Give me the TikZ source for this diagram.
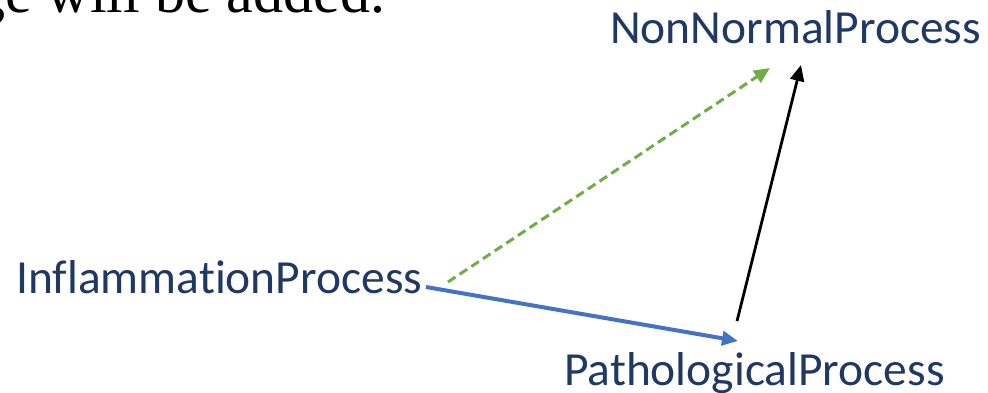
\documentclass[tikz,border=0pt]{standalone}
\usepackage{fontspec}
\setmainfont{Carlito}[RawFeature=-liga]
\newfontfamily\serifface{Liberation Serif}
\usetikzlibrary{arrows.meta}
\definecolor{txtblue}{HTML}{1F3864}
\definecolor{arrgreen}{HTML}{70AD47}
\definecolor{arrblue}{HTML}{4472C4}
\tikzset{
  lbl/.style={inner sep=0pt, anchor=base west, text=txtblue, font=\fontsize{47.5}{50}\selectfont},
  tip/.style={-{Triangle[length=16pt,width=14pt]}},
}
\begin{document}
\begin{tikzpicture}[x=1pt,y=-1pt]
\useasboundingbox (0,0) rectangle (988,392);
\clip (0,0) rectangle (988,392);
\node[inner sep=0pt, anchor=base west, font=\serifface\fontsize{60}{64}\selectfont] (cap) at (-25,12) {ge will be added.};
\node[lbl] (nn) at (610,43) {NonNormalProcess};
\node[lbl] (inf) at (16,293) {InflammationProcess};
\node[lbl] (pat) at (564,385) {PathologicalProcess};
\coordinate (gs) at (448,282);
\coordinate (ge) at (770,68);
\coordinate (bs) at (426,287);
\coordinate (be) at (738,341);
\coordinate (ks) at (737,321);
\coordinate (ke) at (801,65);
\draw[tip, arrgreen, line width=3pt, dash pattern=on 9pt off 5pt] (gs) -- (ge);
\draw[tip, arrblue, line width=4pt] (bs) -- (be);
\draw[tip, black, line width=2.8pt] (ks) -- (ke);
\end{tikzpicture}
\end{document}
